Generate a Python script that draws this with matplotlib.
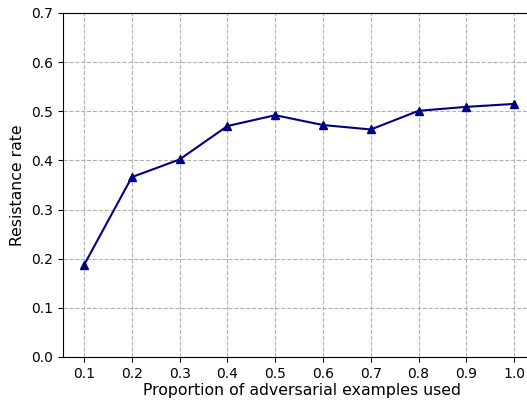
import matplotlib
matplotlib.use("Agg")
import matplotlib.pyplot as plt

proportions = [0.1, 0.2, 0.3, 0.4, 0.5, 0.6, 0.7, 0.8, 0.9, 1.0]
resistance = [0.187, 0.366, 0.402, 0.470, 0.492, 0.472, 0.463, 0.501, 0.509, 0.515]

fig = plt.figure(figsize=(5.27, 4.0), dpi=100)
# axes run a bit past the right edge of the canvas
ax = fig.add_axes([62.5 / 527, 43 / 400, 478 / 527, 344 / 400])

ax.plot(proportions, resistance, color="navy", marker="^", linewidth=1.5, markersize=6)

ax.set_xticks(proportions)
ax.set_xlim(0.055, 1.055)
ax.set_ylim(0, 0.7)
ax.set_xlabel("Proportion of adversarial examples used", fontsize=11.3, labelpad=2)
ax.set_ylabel("Resistance rate", fontsize=11.3)
ax.grid(True, linestyle="--", color="#b0b0b0", linewidth=0.8)

fig.savefig("out.png", dpi=100)
